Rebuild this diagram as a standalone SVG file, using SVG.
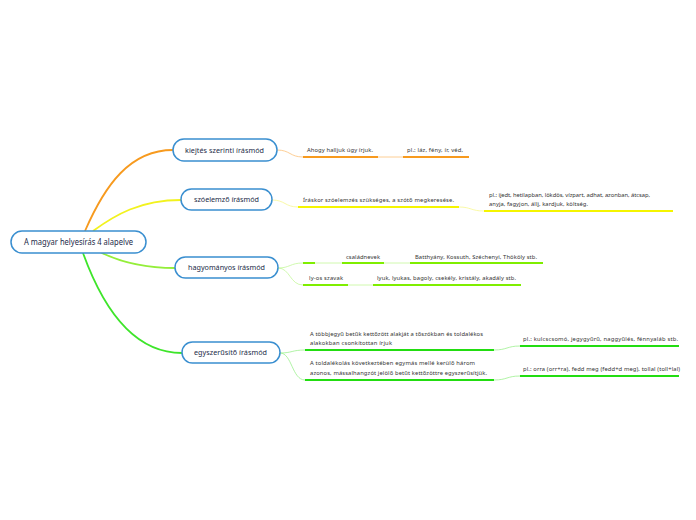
<svg xmlns="http://www.w3.org/2000/svg" width="696" height="520" viewBox="0 0 696 520">
<style>
.box{fill:#fff;stroke:#3a8fd0;stroke-width:1.5}
.t{font-family:"Noto Sans","Open Sans",sans-serif;fill:#1c2a48}
.nt{font-size:7.2px}
.rt{font-size:8.5px}
.lt{font-family:"Noto Sans","Open Sans",sans-serif;fill:#333;font-size:5.8px}
.c{fill:none}
.or{stroke:#f79a1e;stroke-width:1.8}
.orl{stroke:#fcc27a;stroke-width:0.8}
.orU{stroke:#f79a1e;stroke-width:2}
.ye{stroke:#f2f21e;stroke-width:1.8}
.yel{stroke:#f8f890;stroke-width:0.8}
.yeU{stroke:#f5f500;stroke-width:2}
.lg{stroke:#94ee3a;stroke-width:1.8}
.lgl{stroke:#c4f79a;stroke-width:0.8}
.lgU{stroke:#7fee00;stroke-width:2}
.gr{stroke:#3ee52a;stroke-width:1.8}
.grl{stroke:#9cf08e;stroke-width:0.8}
.grU{stroke:#22dd11;stroke-width:2}
</style>
<g id="connectors">
<path class="c or" d="M85,231 C105,185 130,150 173,150"/>
<path class="c ye" d="M93,231 C115,215 140,200 181,200"/>
<path class="c lg" d="M100,252 C120,262 145,268 175,268"/>
<path class="c gr" d="M83,253 C100,300 130,353 182,353"/>
<path class="c orl" d="M277,150 C290,150 290,157 303,157"/>
<path class="c orU" d="M303,157 H378"/>
<path class="c orl" d="M378,157 H403"/>
<path class="c orU" d="M403,157 H469"/>
<path class="c yel" d="M272,200 C285,200 285,207 298,207"/>
<path class="c yeU" d="M298,207 H459"/>
<path class="c yel" d="M459,207 C471,207 471,211 484,211"/>
<path class="c yeU" d="M484,211 H673"/>
<path class="c lgl" d="M278,268 C290,268 290,263 303,263"/>
<path class="c lgU" d="M303,263 H315"/>
<path class="c lgl" d="M315,263 H342"/>
<path class="c lgU" d="M342,263 H384"/>
<path class="c lgl" d="M384,263 H410"/>
<path class="c lgU" d="M410,263 H543"/>
<path class="c lgl" d="M278,268 C290,268 290,285 303,285"/>
<path class="c lgU" d="M303,285 H348"/>
<path class="c lgl" d="M348,285 H373"/>
<path class="c lgU" d="M373,285 H521"/>
<path class="c grl" d="M280,353 C292,353 292,350 305,350"/>
<path class="c grU" d="M305,350 H494"/>
<path class="c grl" d="M494,350 C507,350 507,346 520,346"/>
<path class="c grU" d="M520,346 H679"/>
<path class="c grl" d="M280,353 C292,353 292,380 305,380"/>
<path class="c grU" d="M305,380 H494"/>
<path class="c grl" d="M494,380 C507,380 507,376 520,376"/>
<path class="c grU" d="M520,376 H679"/>
</g>
<g id="root">
<rect class="box" x="11" y="231" width="135" height="22" rx="11"/>
<text class="t rt" x="24" y="245" textLength="109" lengthAdjust="spacingAndGlyphs">A magyar helyesírás 4 alapelve</text>
</g>
<g id="kiejtes">
<rect class="box" x="173" y="139" width="104" height="22" rx="11"/>
<text class="t nt" x="185" y="152.5" textLength="79">kiejtés szerinti írásmód</text>
</g>
<g id="szoelemzo">
<rect class="box" x="181" y="189" width="91" height="21" rx="10.5"/>
<text class="t nt" x="194" y="202" textLength="65">szóelemző írásmód</text>
</g>
<g id="hagyomanyos">
<rect class="box" x="175" y="257" width="103" height="21" rx="10.5"/>
<text class="t nt" x="188" y="270" textLength="77">hagyományos írásmód</text>
</g>
<g id="egyszerusito">
<rect class="box" x="182" y="342" width="98" height="21" rx="10.5"/>
<text class="t nt" x="194" y="355" textLength="73">egyszerűsítő írásmód</text>
</g>
<g id="leaves">
<text class="lt" x="307" y="152" textLength="66">Ahogy halljuk úgy írjuk.</text>
<text class="lt" x="407" y="152" textLength="56">pl.: láz, fény, ír, véd,</text>
<text class="lt" x="303" y="202" textLength="151">Íráskor szóelemzés szükséges, a szótő megkeresése.</text>
<text class="lt" x="489" y="197" textLength="161">pl.: ijedt, hetilapban, lökdös, vízpart, adhat, azonban, átcsap,</text>
<text class="lt" x="489" y="206" textLength="99">anyja, fagyjon, állj, kardjuk, költség.</text>
<text class="lt" x="346" y="259" textLength="34">családnevek</text>
<text class="lt" x="415" y="259" textLength="122">Batthyány, Kossuth, Széchenyi, Thököly stb.</text>
<text class="lt" x="309" y="280" textLength="34">ly-os szavak</text>
<text class="lt" x="377" y="280" textLength="139">lyuk, lyukas, bagoly, csekély, kristály, akadály stb.</text>
<text class="lt" x="310" y="336" textLength="173">A többjegyű betűk kettőzött alakját a tőszókban és toldalékos</text>
<text class="lt" x="310" y="345" textLength="82">alakokban csonkítottan írjuk</text>
<text class="lt" x="523" y="341" textLength="155">pl.: kulcscsomó, jegygyűrű, naggyűlés, fénnyaláb stb.</text>
<text class="lt" x="310" y="365" textLength="165">A toldalékolás következtében egymás mellé kerülő három</text>
<text class="lt" x="310" y="375" textLength="177">azonos, mássalhangzót jelölő betűt kettőzöttre egyszerűsítjük.</text>
<text class="lt" x="523" y="371" textLength="157">pl.: orra (orr+ra), fedd meg (fedd+d meg), tollal (toll+lal)</text>
</g>
</svg>
